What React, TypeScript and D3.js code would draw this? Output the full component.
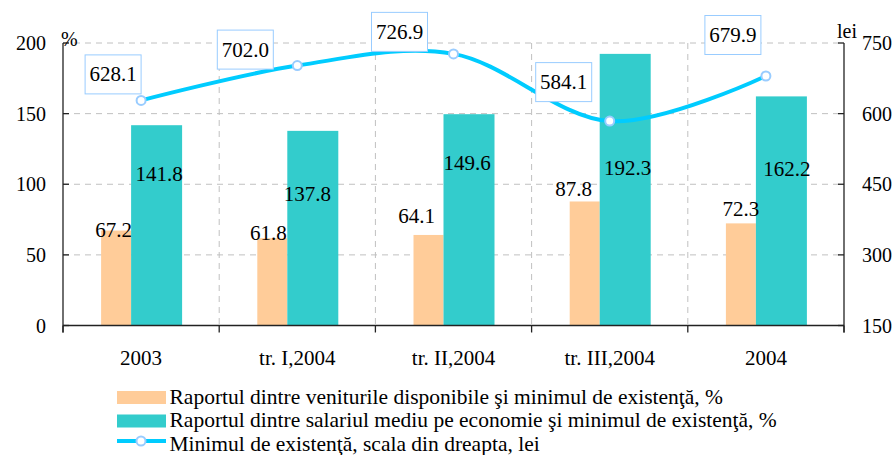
import React from "react";
import * as d3 from "d3";

// ---- data ----
const categories = ["2003", "tr. I,2004", "tr. II,2004", "tr. III,2004", "2004"];
const venituriRatio = [67.2, 61.8, 64.1, 87.8, 72.3];
const salariuRatio = [141.8, 137.8, 149.6, 192.3, 162.2];
const minimulExistenta = [628.1, 702.0, 726.9, 584.1, 679.9];
const leftTicks = [0, 50, 100, 150, 200];
const rightTicks = [150, 300, 450, 600, 750];
const legendLabels = [
  "Raportul dintre veniturile disponibile şi minimul de existenţă, %",
  "Raportul dintre salariul mediu pe economie şi minimul de existenţă, %",
  "Minimul de existenţă, scala din dreapta, lei",
];

// ---- layout (manual label placements as in the original) ----
const lineLabelOffsets = [
  [-28, -26],
  [-52, -16],
  [-54, -22],
  [-46, -39],
  [-33, -41],
];
const tealLabelOffsets = [
  [2.5, 56],
  [-5.5, 70],
  [-2, 56],
  [2.5, 121],
  [5.5, 80],
];
const orangeLabelOffsets = [
  [-2.5, 6.5],
  [-4, 2],
  [-12, -12],
  [-11, -5],
  [0, -7],
];

const W = 896;
const H = 455;
const X0 = 63;
const X1 = 844;
const Y0 = 325.5;
const Y1 = 43;
const FONT = '"Liberation Serif", "Times New Roman", Times, serif';
const ORANGE = "#FFCC99";
const TEAL = "#33CCCC";
const LINE = "#00CCFF";
const MARK = "#99CCFF";
const GRID = "#C0C0C0";

export default function App() {
  const x = d3.scaleBand<string>().domain(categories).range([X0, X1]).padding(0);
  const yL = d3.scaleLinear().domain([0, 200]).range([Y0, Y1]);
  const yR = d3.scaleLinear().domain([150, 750]).range([Y0, Y1]);
  const bw = x.bandwidth();
  const cx = (i: number) => (x(categories[i]) as number) + bw / 2;

  const pts: [number, number][] = minimulExistenta.map((v, i) => [cx(i), yR(v)]);
  const lineGen = d3.line().curve(d3.curveCardinal.tension(0));
  const path = lineGen(pts) || "";

  const boundaries = categories.map((c) => x(c) as number).concat([X1]);
  const ts = { fontFamily: FONT } as React.CSSProperties;

  return (
    <div style={{ position: "fixed", left: 0, top: 0, fontFamily: FONT }}>
      <svg width={W} height={H} style={{ display: "block", background: "#fff", fontFamily: FONT }}>
        {/* grid */}
        {leftTicks.filter((t) => t > 0).map((t) => (
          <line key={"h" + t} x1={X0} x2={X1} y1={yL(t)} y2={yL(t)} stroke={GRID} strokeDasharray="6,5" strokeWidth={1} />
        ))}
        {boundaries.slice(1, -1).map((bx, i) => (
          <line key={"v" + i} x1={bx} x2={bx} y1={Y1} y2={Y0} stroke={GRID} strokeDasharray="6,5" strokeWidth={1} />
        ))}

        {/* bars */}
        {categories.map((c, i) => (
          <g key={"b" + i}>
            <rect x={cx(i) - 40} width={30} y={yL(venituriRatio[i])} height={Y0 - yL(venituriRatio[i])} fill={ORANGE} />
            <rect x={cx(i) - 10} width={51} y={yL(salariuRatio[i])} height={Y0 - yL(salariuRatio[i])} fill={TEAL} />
          </g>
        ))}

        {/* axes */}
        <line x1={X0} x2={X0} y1={Y1} y2={Y0 + 7} stroke="#222" strokeWidth={1.3} />
        <line x1={X1} x2={X1} y1={Y1} y2={Y0 + 7} stroke="#222" strokeWidth={1.3} />
        <line x1={X0} x2={X1} y1={Y0} y2={Y0} stroke="#222" strokeWidth={1.3} />
        {boundaries.map((bx, i) => (
          <line key={"bt" + i} x1={bx} x2={bx} y1={Y0} y2={Y0 + 7} stroke="#222" strokeWidth={1.3} />
        ))}
        {leftTicks.map((t) => (
          <g key={"lt" + t}>
            <line x1={X0} x2={X0 + 6} y1={yL(t)} y2={yL(t)} stroke="#222" strokeWidth={1.3} />
            <text style={ts} x={46} y={yL(t) + 7} textAnchor="end" fontSize={20} fill="#000">{t}</text>
          </g>
        ))}
        {rightTicks.map((t) => (
          <g key={"rt" + t}>
            <line x1={X1 - 6} x2={X1} y1={yR(t)} y2={yR(t)} stroke="#222" strokeWidth={1.3} />
            <text style={ts} x={862} y={yR(t) + 7} textAnchor="start" fontSize={20} fill="#000">{t}</text>
          </g>
        ))}
        <text style={ts} x={61} y={46} fontSize={20} fill="#000">%</text>
        <text style={ts} x={837} y={38} fontSize={20} fill="#000">lei</text>

        {/* category labels */}
        {categories.map((c, i) => (
          <text style={ts} key={"c" + i} x={cx(i)} y={365} textAnchor="middle" fontSize={21} fill="#000">{c}</text>
        ))}

        {/* bar value labels */}
        {categories.map((c, i) => (
          <g key={"bl" + i}>
            <text style={ts} x={cx(i) - 25 + orangeLabelOffsets[i][0]} y={yL(venituriRatio[i]) + orangeLabelOffsets[i][1]} textAnchor="middle" fontSize={21} fill="#000">
              {venituriRatio[i].toFixed(1)}
            </text>
            <text style={ts} x={cx(i) + 15.5 + tealLabelOffsets[i][0]} y={yL(salariuRatio[i]) + tealLabelOffsets[i][1]} textAnchor="middle" fontSize={21} fill="#000">
              {salariuRatio[i].toFixed(1)}
            </text>
          </g>
        ))}

        {/* line */}
        <path d={path} fill="none" stroke={LINE} strokeWidth={4} />
        {pts.map((p, i) => (
          <circle key={"m" + i} cx={p[0]} cy={p[1]} r={4.5} fill="#fff" stroke={MARK} strokeWidth={2} />
        ))}

        {/* line labels */}
        {pts.map((p, i) => {
          const bx = p[0] + lineLabelOffsets[i][0];
          const by = p[1] + lineLabelOffsets[i][1];
          return (
            <g key={"ll" + i}>
              <rect x={bx - 28} y={by - 19.5} width={56} height={39} fill="#fff" stroke={MARK} strokeWidth={1} />
              <text style={ts} x={bx} y={by + 7} textAnchor="middle" fontSize={21} fill="#000">
                {minimulExistenta[i].toFixed(1)}
              </text>
            </g>
          );
        })}

        {/* legend */}
        <rect x={117} y={391} width={49} height={13} fill={ORANGE} />
        <rect x={117} y={414.5} width={49} height={13} fill={TEAL} />
        <line x1={117} x2={166} y1={441} y2={441} stroke={LINE} strokeWidth={4} />
        <circle cx={141} cy={441} r={4.5} fill="#fff" stroke={MARK} strokeWidth={2} />
        {legendLabels.map((l, i) => (
          <text style={ts} key={"lg" + i} x={169.5} y={404 + i * 23.3} fontSize={21.5} fill="#000">{l}</text>
        ))}
      </svg>
    </div>
  );
}
